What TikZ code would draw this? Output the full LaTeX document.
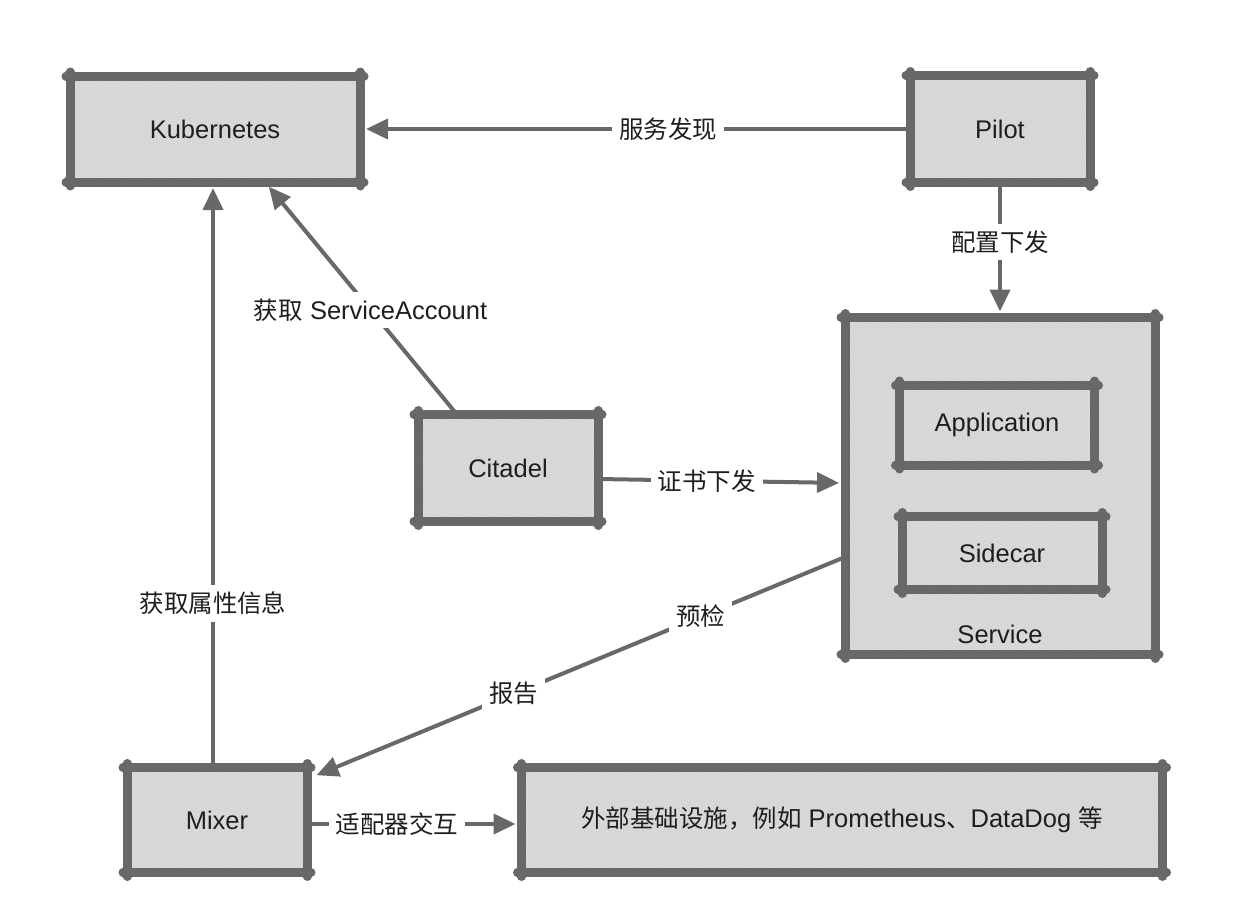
\documentclass[tikz,border=0pt]{standalone}
\usepackage{fontspec}
\setmainfont{Liberation Sans}
\newfontfamily\cjk[Scale=0.96]{Noto Sans CJK SC}
\usetikzlibrary{arrows.meta,patterns,calc}
\definecolor{edgegray}{HTML}{686868}
\definecolor{boxfill}{HTML}{DEDEDE}
\definecolor{hatchgray}{HTML}{CBCBCB}
\definecolor{txt}{HTML}{1E1E1E}
\newcommand\skedges[1]{%
  \draw[skline] ($(#1.north west)+(-4,0)$) -- ($(#1.north east)+(4,0)$);
  \draw[skline] ($(#1.south west)+(-4,0)$) -- ($(#1.south east)+(4,0)$);
  \draw[skline] ($(#1.north west)+(0,-4)$) -- ($(#1.south west)+(0,4)$);
  \draw[skline] ($(#1.north east)+(0,-4)$) -- ($(#1.south east)+(0,4)$);
  \foreach \c in {north west,north east,south west,south east}{\fill[edgegray] ($(#1.\c)$) circle (6.5pt);}
}
\tikzset{
  box/.style={preaction={fill=boxfill}, pattern=north east lines, pattern color=hatchgray,
    inner sep=0pt, outer sep=0pt, font=\fontsize{25.5}{29}\selectfont, text=txt},
  skline/.style={draw=edgegray, line width=9pt, line cap=round},
  conn/.style={draw=edgegray, line width=4pt, -{Triangle[length=22pt,width=20pt]}, shorten >=6pt, shorten <=4pt},
  lbl/.style={fill=white, inner sep=7pt, font=\fontsize{25.5}{29}\selectfont, text=txt},
  plain/.style={font=\fontsize{25.5}{29}\selectfont, text=txt, inner sep=0pt},
}
\begin{document}
\begin{tikzpicture}[x=1pt,y=-1pt]
\useasboundingbox[fill=white] (0,0) rectangle (1234,918);
% boxes
\node[box, minimum width=290pt, minimum height=106pt] (kube) at (215,129) {Kubernetes};
\node[box, minimum width=180pt, minimum height=107pt] (pilot) at (1000,129) {Pilot};
\node[box, minimum width=310pt, minimum height=337pt] (service) at (1000,486) {};
\node[box, minimum width=195pt, minimum height=80pt] (app) at (997,425) {Application};
\node[box, minimum width=200pt, minimum height=73pt] (sidecar) at (1002,553) {Sidecar};
\node[plain] (servicelbl) at ($(service.south)+(0,-20)$) {Service};
\node[box, minimum width=180pt, minimum height=107pt] (citadel) at (508,468) {Citadel};
\node[box, minimum width=180pt, minimum height=105pt] (mixer) at (217,820) {Mixer};
\node[box, minimum width=641pt, minimum height=105pt] (ext) at (842,820) {{\cjk 外部基础设施，例如} Prometheus{\cjk 、}DataDog {\cjk 等}};
\skedges{kube}
\skedges{pilot}
\skedges{service}
\skedges{app}
\skedges{sidecar}
\skedges{citadel}
\skedges{mixer}
\skedges{ext}
% connectors
\draw[conn] (pilot.west) -- node[lbl, pos=0.44] {\cjk 服务发现} (kube.east);
\draw[conn] (pilot.south) -- node[lbl, pos=0.44] {\cjk 配置下发} (service.north);
\draw[conn] ($(citadel.north)+(-51,0)$) -- node[lbl, pos=0.45] {{\cjk 获取} ServiceAccount} ($(kube.south)+(50,0)$);
\draw[conn] ($(citadel.east)+(0,11)$) -- node[lbl, pos=0.44] {\cjk 证书下发} ($(service.west)+(0,-3)$);
\draw[conn] ($(service.west)+(0,71)$) -- node[lbl, pos=0.27] {\cjk 预检} node[lbl, pos=0.62] {\cjk 报告} ($(mixer.north east)+(4,10)$);
\draw[conn] ($(mixer.north)+(-4,0)$) -- node[lbl, pos=0.28] {\cjk 获取属性信息} ($(kube.south)+(-2,0)$);
\draw[conn] ($(mixer.east)+(0,4)$) -- node[lbl, pos=0.42] {\cjk 适配器交互} ($(ext.west)+(0,4)$);
\end{tikzpicture}
\end{document}
